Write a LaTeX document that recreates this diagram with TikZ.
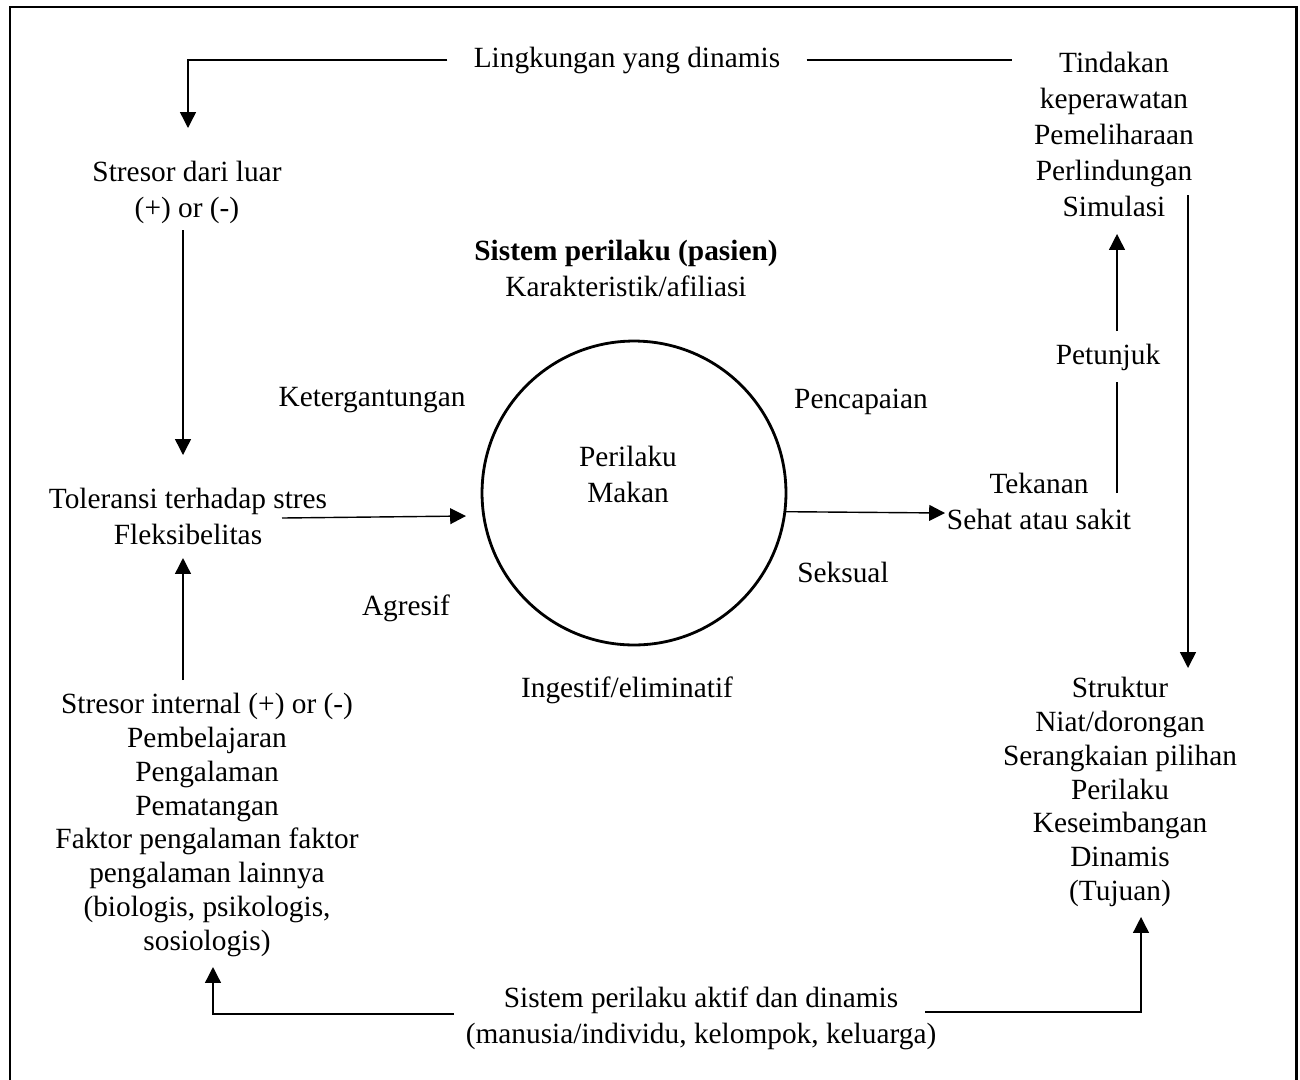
\documentclass[tikz,border=0pt]{standalone}
\usepackage{fontspec}
\setmainfont{Liberation Serif}
\usetikzlibrary{arrows.meta}

\tikzset{
  lbl/.style={font=\fontsize{16.7}{20.5}\selectfont, align=center, inner sep=0pt},
  lbltight/.style={lbl, font=\fontsize{16.7}{19.3}\selectfont},
  conn/.style={line width=0.8pt},
  arr/.style={conn, -{Triangle[length=9pt,width=9pt]}}
}

\begin{document}
\begin{tikzpicture}[x=0.02cm, y=-0.02cm]
\useasboundingbox (0,0) rectangle (1300,1079);
%==================== Frame ==================
\draw[line width=1.7pt] (10,7) rectangle (1296,1100);
%==================== Lingkungan ==================
\node[lbl, inner xsep=0.52cm] (lingk) at (627,60) {Lingkungan yang dinamis};
\node[lbl] (tindakan) at (1114,134) {Tindakan\\keperawatan\\Pemeliharaan\\Perlindungan\\Simulasi};
%==================== Sisi kiri ==================
\node[lbl] (luar) at (187,192) {Stresor dari luar\\(+) or (-)};
\node[lbl] (toleransi) at (188,516) {Toleransi terhadap stres\\Fleksibelitas};
\node[lbltight] (internal) at (207,825) {Stresor internal (+) or (-)\\Pembelajaran\\Pengalaman\\Pematangan\\Faktor pengalaman faktor\\pengalaman lainnya\\(biologis, psikologis,\\sosiologis)};
%==================== Sistem perilaku ==================
\node[lbl] (sistem) at (626,268) {\textbf{Sistem perilaku (pasien)}\\Karakteristik/afiliasi};
\node[circle, draw, line width=1.6pt, minimum size=6.08cm] (circ) at (634,493) {};
\node[lbl] (makan) at (628,474) {Perilaku\\Makan};
\node[lbl] (gantung) at (372,400) {Ketergantungan};
\node[lbl] (capai) at (861,402) {Pencapaian};
\node[lbl] (seksual) at (843,572) {Seksual};
\node[lbl] (agresif) at (406,608) {Agresif};
\node[lbl] (ingestif) at (627,690) {Ingestif/eliminatif};
%==================== Sisi kanan ==================
\node[lbl] (tekanan) at (1039,501) {Tekanan\\Sehat atau sakit};
\node[lbl] (petunjuk) at (1108,357) {Petunjuk};
\node[lbltight] (struktur) at (1120,792) {Struktur\\Niat/dorongan\\Serangkaian pilihan\\Perilaku\\Keseimbangan\\Dinamis\\(Tujuan)};
%==================== Bawah ==================
\node[lbl] (aktif) at (701,1018) {Sistem perilaku aktif dan dinamis\\(manusia/individu, kelompok, keluarga)};
%==================== Titik bantu ==================
\coordinate (tl) at (188,60);
\coordinate (luarIn) at (188,128);
\coordinate (luarOut) at (183,230);
\coordinate (tolIn) at (183,455);
\coordinate (tolOut) at (183,558);
\coordinate (intOut) at (183,680);
\coordinate (tolE) at (282,518);
\coordinate (circIn) at (466,516);
\coordinate (tekIn) at (945,513);
\coordinate (tr) at (1012,60);
\coordinate (tekOut) at (1117,493);
\coordinate (petS) at (1117,382);
\coordinate (petN) at (1117,331);
\coordinate (tinIn) at (1117,234);
\coordinate (tinOut) at (1188,195);
\coordinate (strIn) at (1188,668);
\coordinate (aktifL) at (454,1014);
\coordinate (bl) at (213,1014);
\coordinate (intIn) at (213,967);
\coordinate (aktifR) at (925,1012);
\coordinate (br) at (1141,1012);
\coordinate (strOut) at (1141,917);
%==================== Frecce ==================
\draw[arr] (lingk.west) -- (tl) -- (luarIn);
\draw[conn] (lingk.east) -- (tr);
\draw[arr] (luarOut) -- (tolIn);
\draw[arr] (intOut) -- (tolOut);
\draw[arr] (tolE) -- (circIn);
\draw[arr] (circ.-7.6) -- (tekIn);
\draw[conn] (tekOut) -- (petS);
\draw[arr] (petN) -- (tinIn);
\draw[arr] (tinOut) -- (strIn);
\draw[arr] (aktifL) -- (bl) -- (intIn);
\draw[arr] (aktifR) -- (br) -- (strOut);
\end{tikzpicture}
\end{document}
